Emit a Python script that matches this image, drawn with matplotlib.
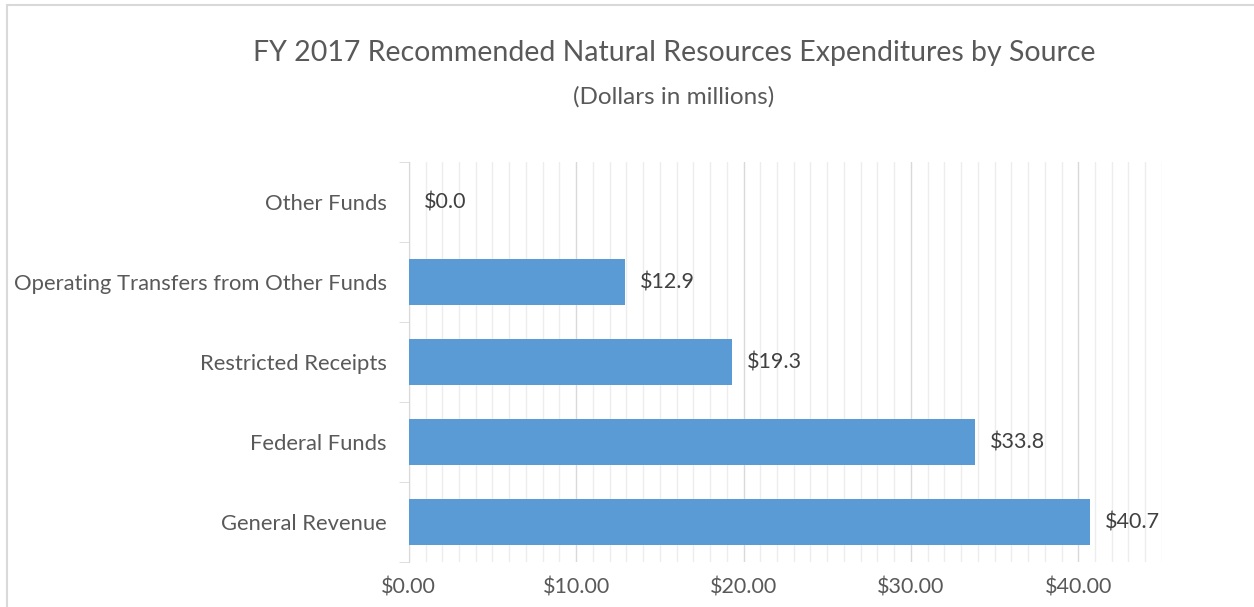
import matplotlib.pyplot as plt
from matplotlib.patches import Rectangle
from matplotlib.ticker import MultipleLocator, FuncFormatter

categories = ["General Revenue", "Federal Funds", "Restricted Receipts",
              "Operating Transfers from Other Funds", "Other Funds"]
values = [40.7, 33.8, 19.3, 12.9, 0.0]

plt.rcParams['font.family'] = ['Lato', 'DejaVu Sans']
text_color = '#595959'

fig = plt.figure(figsize=(12.54, 6.07), dpi=100)
ax = fig.add_axes([0.326, 0.0741, 0.6006, 0.659])

# outer chart border
fig.patches.append(Rectangle((7 / 1254, -0.1), 1.2, 1.1 - 5 / 607, transform=fig.transFigure,
                             fill=False, edgecolor='#D9D9D9', linewidth=1.5))

ax.barh(range(len(categories)), values, height=0.57, color='#5B9BD5', zorder=3)
for i, v in enumerate(values):
    ax.text(v + 0.9, i, f"${v:.1f}", va='center', ha='left', fontsize=15.5, color='#404040')

ax.set_xlim(0, 45)
ax.set_ylim(-0.5, len(categories) - 0.5)
ax.set_yticks(range(len(categories)))
ax.set_yticklabels(categories)
ax.set_yticks([i - 0.5 for i in range(len(categories) + 1)], minor=True)

ax.xaxis.set_major_locator(MultipleLocator(10))
ax.xaxis.set_minor_locator(MultipleLocator(1))
ax.xaxis.set_major_formatter(FuncFormatter(lambda x, p: f"${x:.2f}" if x <= 40 else ""))
ax.grid(axis='x', which='major', color='#D9D9D9', linewidth=1, zorder=0)
ax.grid(axis='x', which='minor', color='#EDEDED', linewidth=1, zorder=0)

for s in ['top', 'right', 'bottom']:
    ax.spines[s].set_visible(False)
ax.spines['left'].set_color('#D9D9D9')
ax.tick_params(axis='y', which='major', length=0, pad=16, labelsize=15.8, labelcolor=text_color)
ax.tick_params(axis='y', which='minor', length=7, color='#D9D9D9')
ax.tick_params(axis='x', which='both', length=0, pad=11, labelsize=15.5, labelcolor=text_color)

fig.text(0.5375, 0.912, "FY 2017 Recommended Natural Resources Expenditures by Source",
         ha='center', va='center', fontsize=20.5, color=text_color)
fig.text(0.5375, 0.84, "(Dollars in millions)", ha='center', va='center',
         fontsize=17.5, color=text_color)

fig.savefig("out.png", dpi=100)
